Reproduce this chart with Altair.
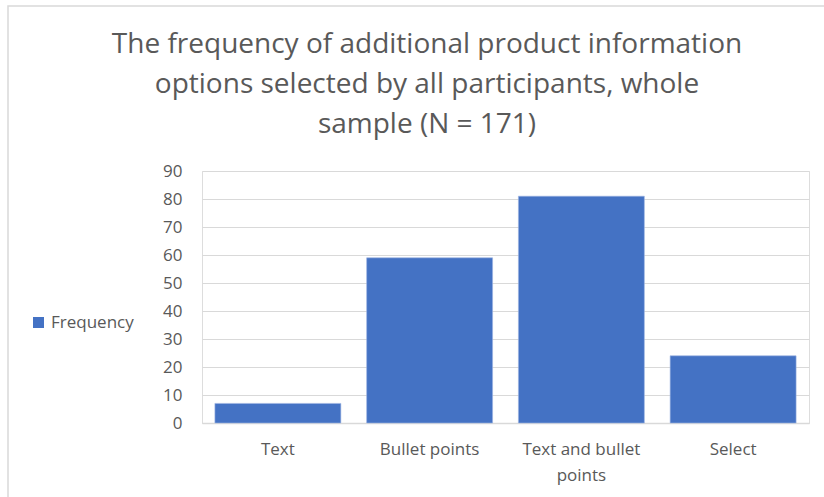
import altair as alt
import pandas as pd

# Chart data
categories = ["Text", "Bullet points", "Text and bullet points", "Select"]
frequency = [7, 59, 81, 24]
series_name = "Frequency"
title_lines = [
    "The frequency of additional product information",
    "options selected by all participants, whole",
    "sample (N = 171)",
]

df = pd.DataFrame({
    "option": categories,
    "count": frequency,
    "series": [series_name] * len(categories),
})

FONT = "Open Sans"
GREY = "#595959"
GRID = "#d9d9d9"
BLUE = "#4472C4"
LABEL_SIZE = 17

bars = alt.Chart(df).mark_bar(color=BLUE, stroke="#9db5e3", strokeWidth=0.6).encode(
    x=alt.X(
        "option:N",
        sort=categories,
        title=None,
        scale=alt.Scale(paddingInner=0.17, paddingOuter=0.085),
        axis=alt.Axis(
            labelAngle=0,
            labelFont=FONT,
            labelFontSize=LABEL_SIZE,
            labelColor=GREY,
            labelPadding=18,
            labelLineHeight=26,
            labelExpr="datum.label == 'Text and bullet points' ? ['Text and bullet', 'points'] : datum.label",
            ticks=False,
            domainColor=GRID,
            domainWidth=1.5,
        ),
    ),
    y=alt.Y(
        "count:Q",
        title=None,
        scale=alt.Scale(domain=[0, 90]),
        axis=alt.Axis(
            values=list(range(0, 91, 10)),
            labelFont=FONT,
            labelFontSize=LABEL_SIZE,
            labelColor=GREY,
            labelPadding=20,
            ticks=False,
            domain=False,
            gridColor=GRID,
            gridWidth=1.2,
        ),
    ),
    color=alt.Color(
        "series:N",
        scale=alt.Scale(domain=[series_name], range=[BLUE]),
        legend=alt.Legend(
            title=None,
            orient="none",
            legendX=-172,
            legendY=143,
            symbolType="square",
            symbolSize=121,
            symbolStrokeWidth=0,
            labelFont=FONT,
            labelFontSize=LABEL_SIZE,
            labelColor=GREY,
            labelOffset=4,
        ),
    ),
)

one_row = pd.DataFrame({"k": [0]})

# Thin outer frame around the chart
frame = alt.Chart(one_row).mark_rect(
    fill=None, stroke=GRID, strokeWidth=1.5
).encode(
    x=alt.value(-194), x2=alt.value(640),
    y=alt.value(-165), y2=alt.value(340),
)

# Three-line chart title, centred over the whole chart
title = alt.Chart(one_row).mark_text(
    text=title_lines,
    font=FONT,
    fontSize=28,
    color=GREY,
    align="center",
    baseline="middle",
    lineHeight=40,
).encode(
    x=alt.value(225),
    y=alt.value(-126),
)

chart = alt.layer(frame, title, bars).properties(
    width=607,
    height=252,
    autosize=alt.AutoSizeParams(type="none"),
    padding={"left": 202, "top": 171, "right": 15, "bottom": 74},
).configure_view(stroke=None).configure(background="white")

chart.save("out.html", embed_options={"renderer": "svg", "actions": False})
